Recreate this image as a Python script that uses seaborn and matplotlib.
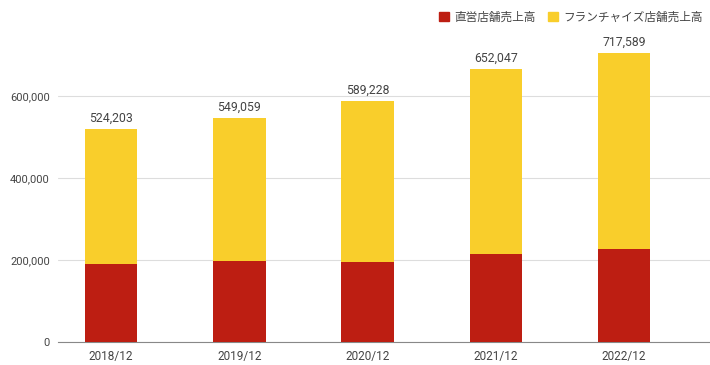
import numpy as np
import pandas as pd
import matplotlib.pyplot as plt
import seaborn as sns
from matplotlib.patches import Patch
from matplotlib.ticker import FuncFormatter

sns.set_style("white")
plt.rcParams['font.family'] = ['Roboto', 'Noto Sans CJK JP', 'DejaVu Sans']

# データ
years = ['2018/12', '2019/12', '2020/12', '2021/12', '2022/12']
direct = [190000, 197500, 196000, 214000, 228000]
franchise = [329500, 350500, 392000, 453500, 479000]
total_labels = ['524,203', '549,059', '589,228', '652,047', '717,589']

df = pd.DataFrame({'year': years, 'direct': direct, 'franchise': franchise})
df['total'] = df['direct'] + df['franchise']

red = '#BD1E12'
yellow = '#F9CE2B'
txt = '#444444'

fig = plt.figure(figsize=(7.1, 3.65), dpi=100)
ax = fig.add_axes([0.082, 0.063, 0.918, 0.830])

# 積み上げ: 合計を黄色で描いてから直営を赤で重ねる
sns.barplot(data=df, x='year', y='total', color=yellow, width=0.41,
            saturation=1, linewidth=0, ax=ax, zorder=2)
sns.barplot(data=df, x='year', y='direct', color=red, width=0.41,
            saturation=1, linewidth=0, ax=ax, zorder=3)

for i, (t, lab) in enumerate(zip(df['total'], total_labels)):
    ax.annotate(lab, (i, t), xytext=(0, 3), textcoords='offset points',
                ha='center', va='bottom', fontsize=8.8, color=txt)

ax.set_xlim(-0.413, 4.67)
ax.set_ylim(0, 740000)
ax.set_yticks([0, 200000, 400000, 600000])
ax.yaxis.set_major_formatter(FuncFormatter(lambda v, p: f'{int(v):,}'))
ax.grid(axis='y', color='#dddddd', linewidth=0.8, zorder=0)
ax.set_axisbelow(True)
for s in ['top', 'right', 'left']:
    ax.spines[s].set_visible(False)
ax.spines['bottom'].set_color('#888888')
ax.tick_params(axis='y', length=0, labelsize=8, labelcolor=txt, pad=6)
ax.tick_params(axis='x', length=0, labelsize=8.5, labelcolor=txt, pad=6)
ax.set_xlabel('')
ax.set_ylabel('')

handles = [Patch(color=red, label='直営店舗売上高'),
           Patch(color=yellow, label='フランチャイズ店舗売上高')]
fig.legend(handles=handles, loc='upper right', bbox_to_anchor=(1.004, 1.0),
           ncol=2, frameon=False, fontsize=8.4, handlelength=0.8,
           handleheight=0.8, handletextpad=0.45, columnspacing=1.1,
           labelcolor=txt)

fig.savefig('out.png', dpi=100)
